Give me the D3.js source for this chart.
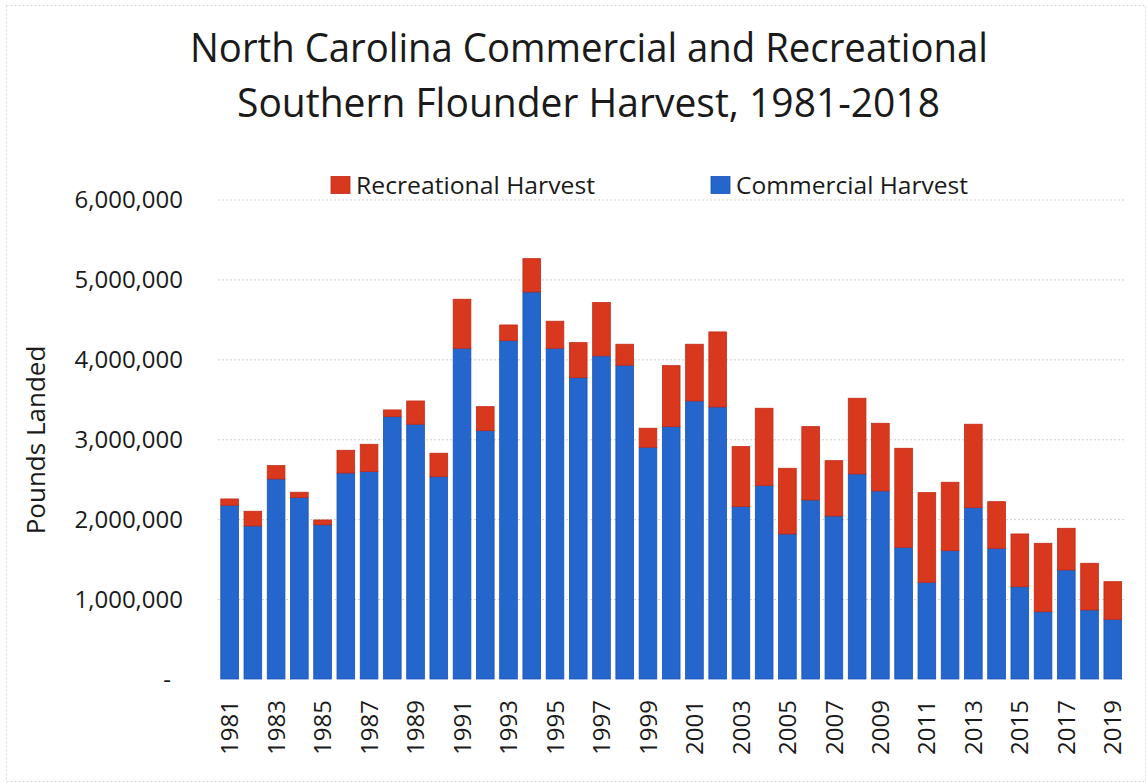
<!DOCTYPE html>
<html>
<head>
<meta charset="utf-8">
<script src="https://cdn.jsdelivr.net/npm/d3@7/dist/d3.min.js"></script>
<style>
  html, body { margin: 0; padding: 0; background: #ffffff; }
  svg { display: block; }
  text { font-family: "Open Sans", "Noto Sans", sans-serif; fill: #1a1a1a; }
</style>
</head>
<body>
<svg id="chart" width="1148" height="784"></svg>
<script>
// Harvest years shown on the category axis
const years = [
  1981, 1982, 1983, 1984, 1985, 1986, 1987, 1988, 1989, 1990,
  1991, 1992, 1993, 1994, 1995, 1996, 1997, 1998, 1999, 2000,
  2001, 2002, 2003, 2004, 2005, 2006, 2007, 2008, 2009, 2010,
  2011, 2012, 2013, 2014, 2015, 2016, 2017, 2018, 2019
];

// Commercial landings, pounds
const commercial = [
  2174000, 1915000, 2503000, 2270000, 1930000, 2578000, 2595000, 3283000, 3188000, 2532000,
  4139000, 3108000, 4234000, 4843000, 4139000, 3771000, 4043000, 3926000, 2900000, 3158000,
  3479000, 3404000, 2157000, 2420000, 1815000, 2240000, 2040000, 2566000, 2353000, 1648000,
  1210000, 1606000, 2144000, 1636000, 1155000, 842000, 1364000, 864000, 747000
];

// Recreational harvest, pounds
const recreational = [
  79000, 184000, 167000, 67000, 60000, 284000, 342000, 84000, 291000, 293000,
  613000, 300000, 196000, 417000, 338000, 438000, 667000, 263000, 238000, 763000,
  710000, 939000, 751000, 968000, 822000, 918000, 692000, 947000, 847000, 1239000,
  1122000, 856000, 1044000, 583000, 660000, 856000, 522000, 584000, 471000
];

// Value axis ticks and their printed labels
const yTicks = [0, 1000000, 2000000, 3000000, 4000000, 5000000, 6000000];
const yTickLabels = ["-", "1,000,000", "2,000,000", "3,000,000", "4,000,000", "5,000,000", "6,000,000"];

// Every other year is labelled
const xTickYears = [1981, 1983, 1985, 1987, 1989, 1991, 1993, 1995, 1997, 1999,
  2001, 2003, 2005, 2007, 2009, 2011, 2013, 2015, 2017, 2019];

const seriesKeys = ["commercial", "recreational"];
const seriesNames = { commercial: "Commercial Harvest", recreational: "Recreational Harvest" };
const seriesColors = { commercial: "#2566CC", recreational: "#D8381D" };
const seriesEdges = { commercial: "#1A52B8", recreational: "#C42A17" };

const titleLines = [
  "North Carolina Commercial and Recreational",
  "Southern Flounder Harvest, 1981-2018"
];

const svg = d3.select("#chart");

// Light frame around the chart area
svg.append("rect")
  .attr("x", 6.5).attr("y", 5.5)
  .attr("width", 1139).attr("height", 776)
  .attr("fill", "none")
  .attr("stroke", "#dadada")
  .attr("stroke-dasharray", "2,2");

const plot = { left: 218, right: 1124.4, top: 199.5, bottom: 679 };

const x = d3.scaleBand()
  .domain(years)
  .range([plot.left, plot.right])
  .paddingInner(0.24)
  .paddingOuter(0.12);

const y = d3.scaleLinear()
  .domain([0, 6000000])
  .range([plot.bottom, plot.top]);

// Horizontal gridlines
const yAxis = d3.axisLeft(y)
  .tickValues(yTicks)
  .tickSize(-(plot.right - plot.left))
  .tickFormat((d, i) => yTickLabels[i]);

const gY = svg.append("g")
  .attr("transform", `translate(${plot.left},0)`)
  .call(yAxis);
gY.select(".domain").remove();
gY.selectAll(".tick line")
  .attr("stroke", (d) => d === 0 ? "none" : "#cfcfcf")
  .attr("stroke-dasharray", "2,2");
gY.selectAll(".tick text")
  .attr("x", (d) => d === 0 ? -51 : -35)
  .attr("dy", "0.35em")
  .attr("text-anchor", (d) => d === 0 ? "middle" : "end")
  .style("font-size", "24px")
  .style("font-family", "'Open Sans', sans-serif")
  .attr("fill", "#1a1a1a");

// Stacked bars
const table = years.map((yr, i) => ({
  year: yr,
  commercial: commercial[i],
  recreational: recreational[i]
}));
const stacked = d3.stack().keys(seriesKeys)(table);

svg.append("g")
  .selectAll("g")
  .data(stacked)
  .join("g")
    .attr("fill", (s) => seriesColors[s.key])
    .attr("stroke", (s) => seriesEdges[s.key])
    .attr("stroke-width", 0.8)
  .selectAll("rect")
  .data((s) => s)
  .join("rect")
    .attr("x", (d) => x(d.data.year))
    .attr("width", x.bandwidth())
    .attr("y", (d) => y(d[1]))
    .attr("height", (d) => y(d[0]) - y(d[1]));

// Year labels, rotated
const xAxis = d3.axisBottom(x)
  .tickValues(xTickYears)
  .tickSize(0)
  .tickFormat(d3.format("d"));
const gX = svg.append("g")
  .attr("transform", `translate(0,${plot.bottom})`)
  .call(xAxis);
gX.select(".domain").remove();
gX.selectAll(".tick text")
  .attr("transform", "translate(0,21) rotate(-90)")
  .attr("x", 0).attr("y", 0)
  .attr("dy", "0.36em")
  .attr("text-anchor", "end")
  .style("font-size", "24px")
  .style("font-family", "'Open Sans', sans-serif")
  .attr("fill", "#1a1a1a");

// Axis title
svg.append("text")
  .attr("transform", "translate(45,440) rotate(-90)")
  .attr("text-anchor", "middle")
  .style("font-size", "26px")
  .text("Pounds Landed");

// Legend
const legendItems = [
  { key: "recreational", sx: 331, tx: 356, w: 239 },
  { key: "commercial", sx: 711, tx: 736, w: 232 }
];
const legend = svg.append("g");
legendItems.forEach((it) => {
  legend.append("rect")
    .attr("x", it.sx).attr("y", 176.5)
    .attr("width", 19).attr("height", 17)
    .attr("fill", seriesColors[it.key])
    .attr("stroke", seriesEdges[it.key])
    .attr("stroke-width", 0.8);
  legend.append("text")
    .attr("x", it.tx).attr("y", 193.5)
    .style("font-size", "24px")
    .attr("textLength", it.w)
    .attr("lengthAdjust", "spacingAndGlyphs")
    .text(seriesNames[it.key]);
});

// Title, two centred lines
const titleSpec = [
  { cx: 589, base: 62, w: 798 },
  { cx: 588.5, base: 117, w: 703 }
];
titleLines.forEach((line, i) => {
  svg.append("text")
    .attr("x", titleSpec[i].cx - titleSpec[i].w / 2)
    .attr("y", titleSpec[i].base)
    .style("font-size", "41px")
    .attr("textLength", titleSpec[i].w)
    .attr("lengthAdjust", "spacingAndGlyphs")
    .attr("fill", "#111")
    .text(line);
});
</script>
</body>
</html>
